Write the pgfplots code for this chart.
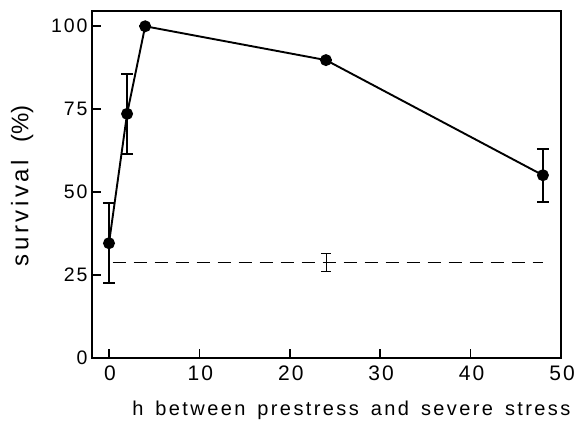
\documentclass[border=0pt]{standalone}
\usepackage{pgfplots}
\pgfplotsset{compat=1.18}
\usepackage{fontspec}
\setmainfont{Liberation Sans}
\newfontfamily\spaced[LetterSpace=12]{Liberation Sans}
\newfontfamily\spacedy[LetterSpace=15]{Liberation Sans}
\newfontfamily\tickfont[LetterSpace=10]{Liberation Sans}
\begin{document}
\begin{tikzpicture}[x=1pt,y=1pt]
\path[use as bounding box] (-92,-65) rectangle (493,358);
\begin{axis}[
  at={(0,0)}, anchor=south west,
  scale only axis, width=469pt, height=347pt,
  xmin=-1.88, xmax=50, ymin=0, ymax=104.6,
  xtick={0,10,20,30,40,50}, ytick={0,25,50,75,100},
  tick align=inside, major tick length=9pt,
  xtick pos=bottom, ytick pos=left,
  axis line style={line width=1.7pt},
  tick style={line width=1.7pt, black},
  /pgf/number format/assume math mode=true,
  xticklabel style={font=\tickfont\fontsize{21}{21}\selectfont, yshift=-4pt, xshift=1pt},
  yticklabel style={font=\tickfont\fontsize{19.5}{20}\selectfont, xshift=-1pt},
  xlabel={\spaced h\hspace{12pt}between\hspace{12pt}prestress\hspace{12pt}and\hspace{12pt}severe\hspace{12pt}stress},
  ylabel={{\spacedy survival}\hspace{17pt}(\%)},
  xlabel style={font=\fontsize{20}{20}\selectfont, at={(axis description cs:0.553,0)}, anchor=center, yshift=-52pt},
  ylabel style={font=\fontsize{24}{24}\selectfont, at={(axis description cs:-0.149,0.496)}, anchor=center},
  clip=false,
]
\addplot[black, line width=1.9pt, mark=*, mark size=5pt,
  error bars/.cd, y dir=both, y explicit,
  error bar style={line width=1.9pt},
  error mark options={rotate=90, mark size=6pt, line width=1.9pt}]
  coordinates {
  (0,34.6) +- (0,12)
  (2,73.6) +- (0,12)
  (4,100) +- (0,0)
  (24,89.8) +- (0,0)
  (48,55.1) +- (0,8)
  };
\addplot[black, line width=0.8pt, dash pattern=on 13pt off 8pt, mark=none]
  coordinates {(0.4,28.8) (48,28.8)};
\addplot[black, line width=0.8pt, draw=none, mark=none,
  error bars/.cd, y dir=both, y explicit,
  error bar style={line width=0.8pt},
  error mark options={rotate=90, mark size=5pt, line width=0.8pt}]
  coordinates {(24,28.8) +- (0,2.6)};
\end{axis}
\end{tikzpicture}
\end{document}
